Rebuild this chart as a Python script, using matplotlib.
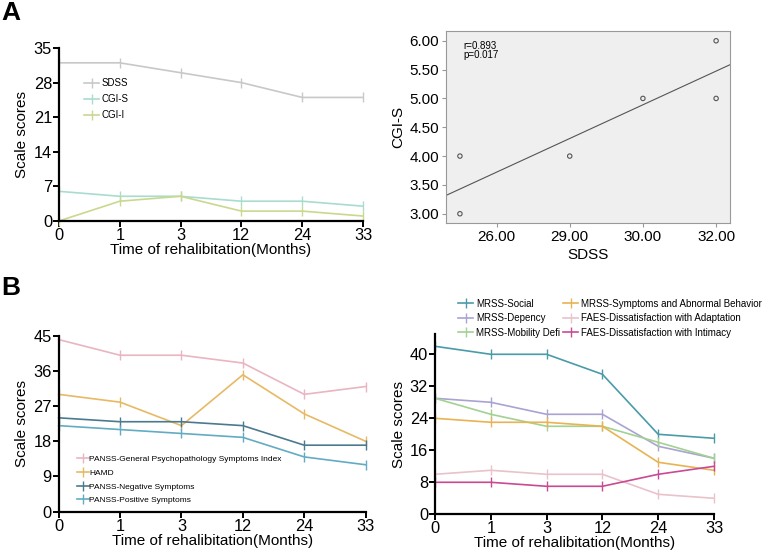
import numpy as np
import matplotlib.pyplot as plt

plt.rcParams['font.family'] = ['Liberation Sans', 'DejaVu Sans']

# --------- data --------

months = ['0', '1', '3', '12', '24', '33']

sdss = [32, 32, 30, 28, 25, 25]
cgi_s = [6, 5, 5, 4, 4, 3]
cgi_i = [0, 4, 5, 2, 2, 1]

panss_gen = [44, 40, 40, 38, 30, 32]
hamd = [30, 28, 22, 35, 25, 18]
panss_neg = [24, 23, 23, 22, 17, 17]
panss_pos = [22, 21, 20, 19, 14, 12]

mrss_social = [42, 40, 40, 35, 20, 19]
mrss_dep = [29, 28, 25, 25, 17, 14]
mrss_mob = [29, 25, 22, 22, 18, 14]
mrss_sym = [24, 23, 23, 22, 13, 11]
faes_adapt = [10, 11, 10, 10, 5, 4]
faes_intim = [8, 8, 7, 7, 10, 12]

scatter_ticks = [26, 28, 30, 32]
scatter_ticklabels = ['26.00', '29.00', '30.00', '32.00']

# --------- plot-params -----------

ticksize = 11.8
labelsize = 11
mylw = 1.2
xlabel = 'Time of rehalibitation(Months)'


def line_axes(ax, ymax, yticks):
    for s in ['top', 'right']:
        ax.spines[s].set_visible(False)
    for s in ['left', 'bottom']:
        ax.spines[s].set_linewidth(1.6)
    ax.set_xlim(0, len(months) - 1)
    ax.set_ylim(0, ymax)
    ax.set_xticks(np.arange(len(months)))
    ax.set_xticklabels(months)
    ax.set_yticks(yticks)
    ax.tick_params(labelsize=ticksize, width=1.4, length=4, pad=1)
    ax.set_xlabel(xlabel, fontsize=labelsize, labelpad=0)
    ax.set_ylabel('Scale scores', fontsize=labelsize, labelpad=3)


def draw(ax, vals, color, label):
    ax.plot(np.arange(len(vals)), vals, color=color, lw=mylw, marker='|',
            markersize=7, markeredgewidth=1.0, label=label, clip_on=False)


fig = plt.figure(figsize=(7.69, 5.53), dpi=100)

# ---------------- A left ----------------
ax = fig.add_axes([0.0767, 0.6004, 0.3953, 0.3128])
draw(ax, sdss, '#c8c8c8', 'SDSS')
draw(ax, cgi_s, '#a9dccf', 'CGI-S')
draw(ax, cgi_i, '#c9d88f', 'CGI-I')
line_axes(ax, 35, [0, 7, 14, 21, 28, 35])
ax.legend(loc='upper left', bbox_to_anchor=(0.055, 0.875), frameon=False,
          fontsize=7, handlelength=1.5, handletextpad=0.3, labelspacing=0.6)

# ---------------- A right (scatter) ----------------
ax = fig.add_axes([0.580, 0.5968, 0.3693, 0.3472])
ax.set_facecolor('#efefef')
ax.scatter(sdss, cgi_s, s=10, facecolors='none', edgecolors='#555555', linewidths=0.8, zorder=3)
slope, icpt = np.polyfit(sdss, cgi_s, 1)
xl = np.array([24.62, 32.38])
ax.plot(xl, slope * xl + icpt, color='#555555', lw=0.8)
r = np.corrcoef(sdss, cgi_s)[0, 1]
ax.text(0.06, 0.95, 'r=%.3f\np=0.017' % r, transform=ax.transAxes, va='top',
        fontsize=7, linespacing=0.9)
ax.set_xlim(24.62, 32.38)
ax.set_ylim(2.84, 6.17)
ax.set_xticks(scatter_ticks)
ax.set_xticklabels(scatter_ticklabels)
ax.set_yticks([3, 3.5, 4, 4.5, 5, 5.5, 6])
ax.set_yticklabels(['%.2f' % v for v in [3, 3.5, 4, 4.5, 5, 5.5, 6]])
for s in ax.spines.values():
    s.set_color('#999999')
    s.set_linewidth(0.8)
ax.tick_params(labelsize=11, length=3, color='#999999', pad=2)
ax.set_xlabel('SDSS', fontsize=labelsize, labelpad=3)
ax.set_ylabel('CGI-S', fontsize=labelsize, labelpad=3)

# ---------------- B left ----------------
ax = fig.add_axes([0.0763, 0.0747, 0.3992, 0.3183])
draw(ax, panss_gen, '#e9b5c1', 'PANSS-General Psychopathology Symptoms Index')
draw(ax, hamd, '#e8b965', 'HAMD')
draw(ax, panss_neg, '#4b7a8f', 'PANSS-Negative Symptoms')
draw(ax, panss_pos, '#63abc2', 'PANSS-Positive Symptoms')
line_axes(ax, 45, [0, 9, 18, 27, 36, 45])
ax.legend(loc='lower left', bbox_to_anchor=(0.035, 0.0), frameon=False,
          fontsize=6, handlelength=1.4, handletextpad=0.1, labelspacing=0.7)

# ---------------- B right ----------------
ax = fig.add_axes([0.5657, 0.070, 0.3628, 0.3255])
draw(ax, mrss_social, '#4a9ba8', 'MRSS-Social')
draw(ax, mrss_dep, '#a9a3d2', 'MRSS-Depency')
draw(ax, mrss_mob, '#a2d192', 'MRSS-Mobility Defi')
draw(ax, mrss_sym, '#e8b352', 'MRSS-Symptoms and Abnormal Behavior')
draw(ax, faes_adapt, '#e9c2cb', 'FAES-Dissatisfaction with Adaptation')
draw(ax, faes_intim, '#c94a93', 'FAES-Dissatisfaction with Intimacy')
line_axes(ax, 45, [0, 8, 16, 24, 32, 40])
ax.legend(loc='lower left', bbox_to_anchor=(0.07, 0.96), ncol=2, frameon=False,
          fontsize=7, handlelength=1.5, handletextpad=0.35, labelspacing=0.45,
          columnspacing=0.3, borderaxespad=0)

fig.text(0.002, 0.976, 'A', fontsize=19, fontweight='bold', va='center')
fig.text(0.002, 0.48, 'B', fontsize=19, fontweight='bold', va='center')

plt.savefig('out.png', dpi=100)
